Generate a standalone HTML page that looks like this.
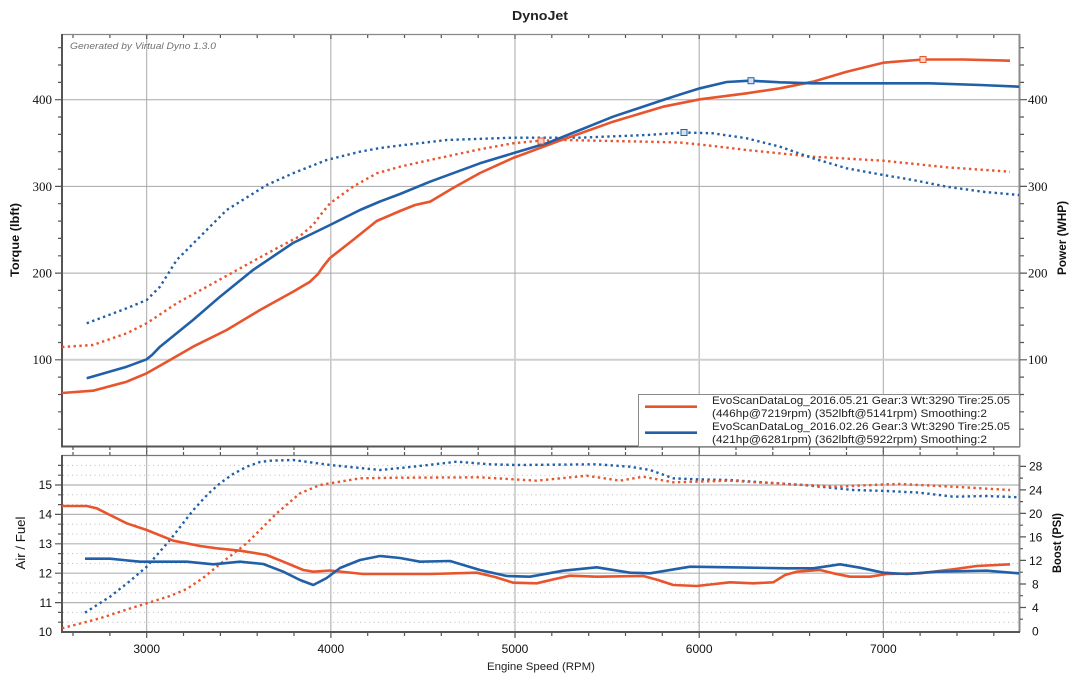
<!DOCTYPE html>
<html><head><meta charset="utf-8"><style>
html,body{margin:0;padding:0;background:#fff;}
svg{display:block;}
</style></head><body>
<svg width="1080" height="682" viewBox="0 0 1080 682" xmlns="http://www.w3.org/2000/svg" font-family="'Liberation Sans', Arial, sans-serif">
<rect width="1080" height="682" fill="#fff"/>
<!-- Title -->
<text x="540" y="20" text-anchor="middle" font-size="13" font-weight="bold" fill="#222" textLength="56" lengthAdjust="spacingAndGlyphs">DynoJet</text>

<!-- ===== TOP PLOT ===== -->
<g stroke="#a8a8a8" stroke-width="1" fill="none">
  <path d="M146.7 34V446M330.85 34V446M515 34V446M699.15 34V446M883.3 34V446"/>
  <path d="M62 273.1H1020M62 186.4H1020M62 99.7H1020"/>
</g>
<path d="M62 359.8H1020" stroke="#cfcfcf" stroke-width="2"/>
<text x="70" y="49" font-size="9" font-style="italic" fill="#707070" textLength="146" lengthAdjust="spacingAndGlyphs">Generated by Virtual Dyno 1.3.0</text>

<!-- frame -->
<path d="M62 34.5H1020" stroke="#888" stroke-width="1.2"/>
<path d="M1019.5 34V447" stroke="#8a8a8a" stroke-width="2"/>
<path d="M62 34V447.5" stroke="#555" stroke-width="2"/>
<path d="M61 446.5H1020" stroke="#555" stroke-width="2"/>
<g stroke="#555" stroke-width="1.2">
<path d="M58 429.2H62M58 411.8H62M58 394.5H62M58 377.1H62M55 359.8H62M58 342.5H62M58 325.1H62M58 307.8H62M58 290.4H62M55 273.1H62M58 255.8H62M58 238.4H62M58 221.1H62M58 203.7H62M55 186.4H62M58 169.1H62M58 151.7H62M58 134.4H62M58 117H62M55 99.7H62M58 82.4H62M58 65H62M58 47.7H62"/>
<path d="M1020 429.2H1024M1020 411.8H1024M1020 394.5H1024M1020 377.1H1024M1020 359.8H1027M1020 342.5H1024M1020 325.1H1024M1020 307.8H1024M1020 290.4H1024M1020 273.1H1027M1020 255.8H1024M1020 238.4H1024M1020 221.1H1024M1020 203.7H1024M1020 186.4H1027M1020 169.1H1024M1020 151.7H1024M1020 134.4H1024M1020 117H1024M1020 99.7H1027M1020 82.4H1024M1020 65H1024M1020 47.7H1024"/>
<path d="M73 35V38M109.9 35V38M146.7 35V39M183.5 35V38M220.4 35V38M257.2 35V38M294 35V38M330.9 35V39M367.7 35V38M404.5 35V38M441.3 35V38M478.2 35V38M515 35V39M551.8 35V38M588.7 35V38M625.5 35V38M662.3 35V38M699.2 35V39M736 35V38M772.8 35V38M809.6 35V38M846.5 35V38M883.3 35V39M920.1 35V38M957 35V38M993.8 35V38"/>
<path d="M73 446V450M109.9 446V450M146.7 446V452M183.5 446V450M220.4 446V450M257.2 446V450M294 446V450M330.9 446V452M367.7 446V450M404.5 446V450M441.3 446V450M478.2 446V450M515 446V452M551.8 446V450M588.7 446V450M625.5 446V450M662.3 446V450M699.2 446V452M736 446V450M772.8 446V450M809.6 446V450M846.5 446V450M883.3 446V452M920.1 446V450M957 446V450M993.8 446V450"/>
</g>
<g font-family="'Liberation Serif', 'Times New Roman', serif" font-size="13" fill="#111">
<text x="52" y="104" text-anchor="end">400</text>
<text x="52" y="191" text-anchor="end">300</text>
<text x="52" y="277.5" text-anchor="end">200</text>
<text x="52" y="364" text-anchor="end">100</text>
<text x="1028" y="104">400</text>
<text x="1028" y="191">300</text>
<text x="1028" y="277.5">200</text>
<text x="1028" y="364">100</text>
</g>
<text transform="translate(19,240) rotate(-90)" text-anchor="middle" font-size="12" font-weight="bold" fill="#111" textLength="74" lengthAdjust="spacingAndGlyphs">Torque (lbft)</text>
<text transform="translate(1066,238) rotate(-90)" text-anchor="middle" font-size="12" font-weight="bold" fill="#111" textLength="74" lengthAdjust="spacingAndGlyphs">Power (WHP)</text>

<g fill="none" stroke-linejoin="round">
<polyline stroke="#e8542c" stroke-width="2.4" stroke-dasharray="2.4 3.4" points="62,347 93,345 126.7,333.3 146.7,323.3 176.7,303.3 210,285 243,266.7 276.7,248.3 300,236 313,225 322,213 330,203.3 353,186.7 376.7,173.3 400,166.7 430,160 480,149.3 513,143.3 540,140.7 563,140 646.7,141.7 680,142.5 713,146 746.7,150 813,156.7 883.3,160.7 946.7,167.3 1010,171.7"/>
<polyline stroke="#2160a8" stroke-width="2.4" stroke-dasharray="2.4 3.4" points="86.7,323.3 126.7,308.3 146.7,300 160,286.7 176.7,260 200,236.7 226.7,210 266.7,185 293,173.3 326.7,160 360,151.7 380,148 400,145.5 446.7,140 513,137.7 580,137.7 646.7,135 684,132.5 713,133.3 746.7,138.3 780,146.7 813,158.3 846.7,168.3 883.3,175 913,180 946.7,186.7 985,192 1019,195"/>
<polyline stroke="#e8542c" stroke-width="2.6" points="62,393 93,390.7 126.7,381.7 146.7,373.3 170,360 193,346.7 226.7,330 260,310 293,291.7 310,281.7 318,274 323,266.7 330,258 353,240 376.7,221 400,211 415,205 430,201.7 453,188 480,173 513,158 557,141.7 613,121.7 663,106.7 700,99.3 746.7,93.3 780,88.3 813,81.7 846.7,71.7 883.3,62.7 923,59.5 963,59.5 1010,60.7"/>
<polyline stroke="#2160a8" stroke-width="2.6" points="86.7,378.3 126.7,366.7 146.7,359.3 152,355 160,346.7 193,320 220,296.7 253,270 293,243 330,225 360,210 380,201.5 400,194 430,181.7 480,163.3 513,153.3 546.7,143.3 580,130 613,116.7 663,100 680,94.5 700,88.3 726.7,82 750,80.7 780,82.3 813,83.3 883.3,83.3 930,83.3 980,85 1019,86.7"/>
</g>
<rect x="920" y="56.5" width="6" height="6" fill="#fbd3c6" stroke="#e8542c" stroke-width="1"/>
<rect x="538" y="138" width="6" height="6" fill="#fbd3c6" stroke="#e8542c" stroke-width="1"/>
<rect x="748" y="77.7" width="6" height="6" fill="#d3e2f4" stroke="#2160a8" stroke-width="1"/>
<rect x="681" y="129.5" width="6" height="6" fill="#d3e2f4" stroke="#2160a8" stroke-width="1"/>

<rect x="638.5" y="394.5" width="381" height="52" fill="#fff" stroke="#8a8a8a" stroke-width="1"/>
<path d="M645 406.7H697" stroke="#e8542c" stroke-width="2.6"/>
<path d="M645 432.7H697" stroke="#2160a8" stroke-width="2.6"/>
<g font-size="11" fill="#222">
<text x="712" y="404" textLength="298" lengthAdjust="spacingAndGlyphs">EvoScanDataLog_2016.05.21 Gear:3 Wt:3290 Tire:25.05</text>
<text x="712" y="417" textLength="275" lengthAdjust="spacingAndGlyphs">(446hp@7219rpm) (352lbft@5141rpm) Smoothing:2</text>
<text x="712" y="430" textLength="298" lengthAdjust="spacingAndGlyphs">EvoScanDataLog_2016.02.26 Gear:3 Wt:3290 Tire:25.05</text>
<text x="712" y="443" textLength="275" lengthAdjust="spacingAndGlyphs">(421hp@6281rpm) (362lbft@5922rpm) Smoothing:2</text>
</g>

<!-- ===== BOTTOM PLOT ===== -->
<g stroke="#bdbdbd" stroke-width="1" stroke-dasharray="1 3.5" fill="none">
<path d="M63 622.2H1019M63 612.4H1019M63 592.8H1019M63 583H1019M63 563.4H1019M63 553.6H1019M63 534H1019M63 524.2H1019M63 504.6H1019M63 494.8H1019M63 475.2H1019M63 465.4H1019"/>
</g>
<g stroke="#b4b4b4" stroke-width="1.2" fill="none">
<path d="M63 602.6H1019M63 573.2H1019M63 543.8H1019M63 514.4H1019"/>
</g>
<path d="M63 485H1019" stroke="#cfcfcf" stroke-width="2"/>
<g stroke="#a8a8a8" stroke-width="1" fill="none">
  <path d="M146.7 455V632M330.85 455V632M515 455V632M699.15 455V632M883.3 455V632"/>
</g>
<path d="M62 455.5H1020" stroke="#777" stroke-width="1.2"/>
<path d="M1019.5 455V632" stroke="#8a8a8a" stroke-width="2"/>
<path d="M62 455V633" stroke="#555" stroke-width="2"/>
<path d="M61 632H1020" stroke="#555" stroke-width="2"/>
<g stroke="#555" stroke-width="1.2">
<path d="M73 452V455M109.9 452V455M146.7 451V455M183.5 452V455M220.4 452V455M257.2 452V455M294 452V455M330.9 451V455M367.7 452V455M404.5 452V455M441.3 452V455M478.2 452V455M515 451V455M551.8 452V455M588.7 452V455M625.5 452V455M662.3 452V455M699.2 451V455M736 452V455M772.8 452V455M809.6 452V455M846.5 452V455M883.3 451V455M920.1 452V455M957 452V455M993.8 452V455"/>
<path d="M73 632V636M109.9 632V636M146.7 632V638M183.5 632V636M220.4 632V636M257.2 632V636M294 632V636M330.9 632V638M367.7 632V636M404.5 632V636M441.3 632V636M478.2 632V636M515 632V638M551.8 632V636M588.7 632V636M625.5 632V636M662.3 632V636M699.2 632V638M736 632V636M772.8 632V636M809.6 632V636M846.5 632V636M883.3 632V638M920.1 632V636M957 632V636M993.8 632V636"/>
<path d="M58 622.2H62M58 612.4H62M55 602.6H62M58 592.8H62M58 583H62M55 573.2H62M58 563.4H62M58 553.6H62M55 543.8H62M58 534H62M58 524.2H62M55 514.4H62M58 504.6H62M58 494.8H62M55 485H62M58 475.2H62M58 465.4H62"/>
<path d="M1020 619.2H1023M1020 607.5H1026M1020 595.7H1023M1020 584H1026M1020 572.2H1023M1020 560.4H1026M1020 548.7H1023M1020 536.9H1026M1020 525.2H1023M1020 513.4H1026M1020 501.6H1023M1020 489.9H1026M1020 478.1H1023M1020 466.4H1026"/>
</g>
<g font-size="12" fill="#111">
<text x="52" y="489" text-anchor="end">15</text>
<text x="52" y="518.5" text-anchor="end">14</text>
<text x="52" y="548" text-anchor="end">13</text>
<text x="52" y="577.5" text-anchor="end">12</text>
<text x="52" y="607" text-anchor="end">11</text>
<text x="52" y="636" text-anchor="end">10</text>
<text x="1029" y="470.5">28</text>
<text x="1029" y="494.5">24</text>
<text x="1029" y="518">20</text>
<text x="1029" y="541.5">16</text>
<text x="1029" y="565">12</text>
<text x="1032" y="588.5">8</text>
<text x="1032" y="612">4</text>
<text x="1032" y="635.5">0</text>
<text x="146.7" y="653" text-anchor="middle">3000</text>
<text x="330.85" y="653" text-anchor="middle">4000</text>
<text x="515" y="653" text-anchor="middle">5000</text>
<text x="699.15" y="653" text-anchor="middle">6000</text>
<text x="883.3" y="653" text-anchor="middle">7000</text>
</g>
<text x="541" y="670" text-anchor="middle" font-size="11" fill="#222" textLength="108" lengthAdjust="spacingAndGlyphs">Engine Speed (RPM)</text>
<text transform="translate(25,543) rotate(-90)" text-anchor="middle" font-size="13" fill="#111" textLength="53" lengthAdjust="spacingAndGlyphs">Air / Fuel</text>
<text transform="translate(1061,543) rotate(-90)" text-anchor="middle" font-size="12" font-weight="bold" fill="#111" textLength="60" lengthAdjust="spacingAndGlyphs">Boost (PSI)</text>

<g fill="none" stroke-linejoin="round">
<polyline stroke="#2160a8" stroke-width="2.4" stroke-dasharray="2.4 3.4" points="85,612.7 110,596.7 130,581 146.7,566.7 170,540 193.3,510 208,494 220,483.3 233,474 246.7,466.7 260,462 270,460.7 293.3,460 330,465 380,470 413.3,466.7 456.7,461.7 490,464.3 516.7,465 596.7,464.3 630,466.7 650,470 673.3,478.3 696.7,479.3 730,480 753.3,481.7 803.3,485 853.3,490 886.7,491 920,492.7 953.3,496.7 986.7,496 1019,497.3"/>
<polyline stroke="#e8542c" stroke-width="2.4" stroke-dasharray="2.4 3.4" points="62,628.3 100,618.3 130,608.5 146.7,603.3 170,596 186.7,589 203,578 220,564 246.7,543.3 276.7,513.3 300,493.3 320,485 360,478.3 396.7,477.7 480,477.3 536.7,480.7 586.7,475.7 620,480.7 643.3,476.7 673.3,482.3 730,480.7 786.7,484 836.7,486.7 886.7,484.3 900,484 953.3,486.7 1010,490"/>
<polyline stroke="#e8542c" stroke-width="2.6" points="62,506 86.7,506 96.7,508.3 110,515 126.7,523.3 146.7,530 173.3,540.7 200,546 216.7,548.3 240,550.7 266.7,555 283.3,561.7 303.3,570 313.3,571.7 330,570.5 363.3,574 430,574 476.7,572.7 495,577 513.3,582.7 536.7,583.3 555,579 570,575.7 596.7,576.7 643.3,576 658,580 673.3,585 696.7,586 730,582.3 753.3,583.3 773.3,582.3 785,575 796.7,571.7 820,570 833.3,573.3 850,576.7 870,576.7 886.7,574 920,573.3 953.3,569.3 976.7,566 1010,564.3"/>
<polyline stroke="#2160a8" stroke-width="2.6" points="85,558.7 110,558.7 140,561.7 186.7,561.7 213.3,564.3 240,561.7 263.3,564 283.3,571.7 300,580 313.3,585 326.7,578 340,568 360,560 380,556 400,558 420,561.7 450,561 480,570 506.7,576 530,576.7 563.3,570.7 596.7,567.3 630,572.7 650,573.3 690,566.7 730,567.3 786.7,568.3 813.3,568.3 840,564.3 860,567.7 883.3,572.7 906.7,574 936.7,571.7 986.7,570.7 1019,573.3"/>
</g>
</svg>
</body></html>
